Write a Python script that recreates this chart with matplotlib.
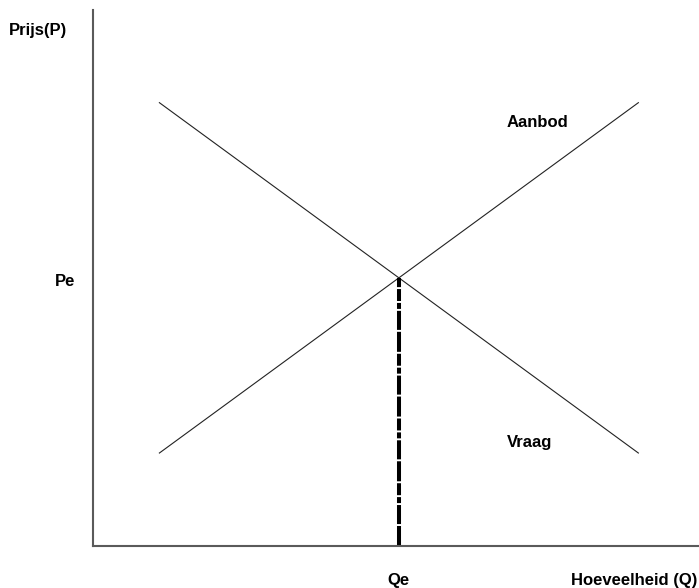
import matplotlib.pyplot as plt
from matplotlib.transforms import blended_transform_factory

# data (arbitrary units, origin at the axes corner)
q_range = [1.1, 9.0]
demand = [8.27, 1.73]
supply = [1.73, 8.27]
qe = 5.05
pe = 5.0

plt.rcParams['font.family'] = ['Liberation Sans', 'DejaVu Sans']
plt.rcParams['lines.scale_dashes'] = False

fig = plt.figure(figsize=(6.99, 5.88), dpi=100)
W, H = 699, 588
x0, y0 = 92.7, 545.7
ax = fig.add_axes([x0 / W, (H - y0) / H, (W - x0) / W, (y0 - 10) / H])
ax.set_xlim(0, 10)
ax.set_ylim(0, 10)

# supply and demand lines
ax.plot(q_range, demand, color='#222222', lw=0.8)
ax.plot(q_range, supply, color='#222222', lw=0.8)

# equilibrium quantity line
ax.plot([qe, qe], [0, pe], color='black', lw=2.9,
        dashes=(14.4, 1.4, 13.7, 1.4, 4.3, 1.4, 8.6, 1.4), solid_capstyle='butt')

for s in ['top', 'right']:
    ax.spines[s].set_visible(False)
for s in ['left', 'bottom']:
    ax.spines[s].set_color('#5a5a5a')
    ax.spines[s].set_linewidth(1.5)
ax.set_xticks([])
ax.set_yticks([])

fs = 12
kw = dict(fontsize=fs, fontweight='bold', color='black')
ax.text(6.83, 7.82, 'Aanbod', ha='left', va='baseline', **kw)
ax.text(6.83, 1.84, 'Vraag', ha='left', va='baseline', **kw)

ty = blended_transform_factory(ax.transAxes, ax.transData)
ax.text(-0.028, 4.85, 'Pe', transform=ty, ha='right', va='baseline', **kw)
ax.text(-0.042, 0.953, 'Prijs(P)', transform=ax.transAxes, ha='right', va='baseline', **kw)

tx = blended_transform_factory(ax.transData, ax.transAxes)
ax.text(qe, -0.073, 'Qe', transform=tx, ha='center', va='baseline', **kw)
ax.text(0.997, -0.073, 'Hoeveelheid (Q)', transform=ax.transAxes, ha='right', va='baseline', **kw)

fig.savefig('out.png', dpi=100)
